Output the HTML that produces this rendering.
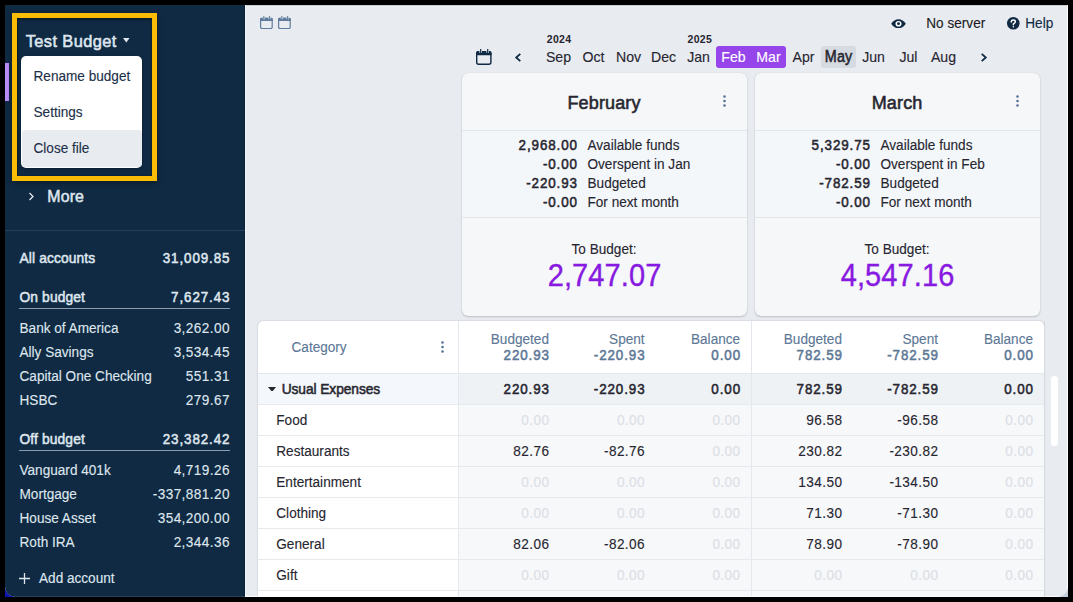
<!DOCTYPE html>
<html><head><meta charset="utf-8"><style>
html,body{margin:0;padding:0;}
body{width:1073px;height:602px;background:#000;position:relative;overflow:hidden;font-family:"Liberation Sans", sans-serif;}
.t{position:absolute;white-space:nowrap;}
</style></head><body>
<div style="position:absolute;left:5px;top:587px;width:10px;height:10px;background:#0c16b0;"></div>
<div style="position:absolute;left:1058px;top:587px;width:10px;height:10px;background:#c3cedb;"></div>
<div id="app" style="position:absolute;left:0;top:0;width:1073px;height:602px;clip-path:inset(5px 5px 5px 5px round 0 0 10px 10px);">
<div style="position:absolute;left:5px;top:5px;width:1063px;height:592px;background:#e8ebf0;border-radius:0 0 10px 10px;"></div>
<div style="position:absolute;left:5px;top:5px;width:240px;height:592px;background:#102a43;border-radius:0 0 0 10px;"></div>
<div style="position:absolute;left:244px;top:5px;width:1px;height:592px;background:#0a1f35;"></div>
<div style="position:absolute;left:245px;top:5px;width:1px;height:592px;background:#f4f6f9;"></div>
<svg style="position:absolute;left:260px;top:15.7px" width="12.8" height="13.2" viewBox="0 0 16 16" preserveAspectRatio="none"><rect x="0.75" y="3" width="14.5" height="12.25" rx="2" fill="none" stroke="#5f7c9c" stroke-width="1.5"/><path d="M0 3.9Q0 2.1 1.8 2.1H14.2Q16 2.1 16 3.9V6.2H0Z" fill="#5f7c9c"/><rect x="3.5" y="1.5" width="2.6" height="2.4" fill="#e8ebf0"/><rect x="10.7" y="1.5" width="2.6" height="2.4" fill="#e8ebf0"/><rect x="4.2" y="0" width="1.25" height="5" fill="#5f7c9c"/><rect x="11.4" y="0" width="1.25" height="5" fill="#5f7c9c"/></svg>
<svg style="position:absolute;left:278.1px;top:15.7px" width="12.8" height="13.2" viewBox="0 0 16 16" preserveAspectRatio="none"><rect x="0.75" y="3" width="14.5" height="12.25" rx="2" fill="none" stroke="#5f7c9c" stroke-width="1.5"/><path d="M0 3.9Q0 2.1 1.8 2.1H14.2Q16 2.1 16 3.9V6.2H0Z" fill="#5f7c9c"/><rect x="3.5" y="1.5" width="2.6" height="2.4" fill="#e8ebf0"/><rect x="10.7" y="1.5" width="2.6" height="2.4" fill="#e8ebf0"/><rect x="4.2" y="0" width="1.25" height="5" fill="#5f7c9c"/><rect x="11.4" y="0" width="1.25" height="5" fill="#5f7c9c"/></svg>
<div style="position:absolute;left:5px;top:63px;width:4px;height:38px;background:#bb8df9;"></div>
<div style="position:absolute;left:12px;top:13px;width:145px;height:168px;box-sizing:border-box;border:5px solid #fbbc05;box-shadow:0 2px 6px rgba(0,0,0,0.35), inset 0 1.5px 2.5px rgba(0,0,0,0.45), inset 1px 0 2px rgba(0,0,0,0.25);"></div>
<div class="t" style="top:32.62px;font-size:16.4px;line-height:16.4px;font-weight:400;color:#dfe6ee;-webkit-text-stroke-width:0.55px;letter-spacing:0.40px;left:25.7px;">Test Budget</div>
<svg style="position:absolute;left:123.3px;top:38.2px" width="6.6" height="4.4" viewBox="0 0 6.6 4.4"><path d="M0 0H6.6L3.3 4.4Z" fill="#dfe6ee"/></svg>
<div style="position:absolute;left:21px;top:56px;width:121px;height:111.6px;background:#fff;border-radius:5px;box-shadow:0 1px 3px rgba(0,0,0,0.3);"></div>
<div style="position:absolute;left:22px;top:130px;width:119.5px;height:36.6px;background:#e8ebf0;border-radius:4px;"></div>
<div class="t" style="top:70.09px;font-size:13.6px;line-height:13.6px;font-weight:400;color:#1c3049;transform:scaleY(1.09);transform-origin:0 11.51px;-webkit-text-stroke-width:0.12px;left:33.5px;">Rename budget</div>
<div class="t" style="top:106.09px;font-size:13.6px;line-height:13.6px;font-weight:400;color:#1c3049;transform:scaleY(1.09);transform-origin:0 11.51px;-webkit-text-stroke-width:0.12px;left:33.5px;">Settings</div>
<div class="t" style="top:142.09px;font-size:13.6px;line-height:13.6px;font-weight:400;color:#1c3049;transform:scaleY(1.09);transform-origin:0 11.51px;-webkit-text-stroke-width:0.12px;left:33.5px;">Close file</div>
<svg style="position:absolute;left:28px;top:192px" width="7" height="9" viewBox="0 0 7 9"><path d="M1.5 1L5 4.5L1.5 8" fill="none" stroke="#dfe6ee" stroke-width="1.3"/></svg>
<div class="t" style="top:188.62px;font-size:15.92px;line-height:15.92px;font-weight:400;color:#dfe6ee;transform:scaleY(1.06);transform-origin:0 13.48px;-webkit-text-stroke-width:0.5px;letter-spacing:0.14px;left:47.3px;">More</div>
<div style="position:absolute;left:5px;top:230px;width:240px;height:1px;background:#22405e;"></div>
<div class="t" style="top:251.92px;font-size:13.8px;line-height:13.8px;font-weight:400;color:#dfe6ee;transform:scaleY(1.09);transform-origin:0 11.68px;-webkit-text-stroke-width:0.5px;letter-spacing:0.12px;left:19.5px;">All accounts</div>
<div class="t" style="top:252.26px;font-size:13.4px;line-height:13.4px;font-weight:400;color:#dfe6ee;transform:scaleY(1.09);transform-origin:0 11.34px;-webkit-text-stroke-width:0.5px;letter-spacing:0.90px;right:842.60px;text-align:right;">31,009.85</div>
<div class="t" style="top:290.92px;font-size:13.8px;line-height:13.8px;font-weight:400;color:#dfe6ee;transform:scaleY(1.09);transform-origin:0 11.68px;-webkit-text-stroke-width:0.5px;letter-spacing:0.12px;left:19.5px;">On budget</div>
<div class="t" style="top:291.26px;font-size:13.4px;line-height:13.4px;font-weight:400;color:#dfe6ee;transform:scaleY(1.09);transform-origin:0 11.34px;-webkit-text-stroke-width:0.5px;letter-spacing:0.90px;right:842.60px;text-align:right;">7,627.43</div>
<div style="position:absolute;left:19px;top:308px;width:211px;height:1px;background:#8d9db0;"></div>
<div class="t" style="top:322.09px;font-size:13.6px;line-height:13.6px;font-weight:400;color:#dfe6ee;transform:scaleY(1.09);transform-origin:0 11.51px;-webkit-text-stroke-width:0.12px;left:19.5px;">Bank of America</div>
<div class="t" style="top:322.09px;font-size:13.6px;line-height:13.6px;font-weight:400;color:#dfe6ee;transform:scaleY(1.09);transform-origin:0 11.51px;-webkit-text-stroke-width:0.12px;letter-spacing:0.42px;right:843.08px;text-align:right;">3,262.00</div>
<div class="t" style="top:346.09px;font-size:13.6px;line-height:13.6px;font-weight:400;color:#dfe6ee;transform:scaleY(1.09);transform-origin:0 11.51px;-webkit-text-stroke-width:0.12px;left:19.5px;">Ally Savings</div>
<div class="t" style="top:346.09px;font-size:13.6px;line-height:13.6px;font-weight:400;color:#dfe6ee;transform:scaleY(1.09);transform-origin:0 11.51px;-webkit-text-stroke-width:0.12px;letter-spacing:0.42px;right:843.08px;text-align:right;">3,534.45</div>
<div class="t" style="top:370.09px;font-size:13.6px;line-height:13.6px;font-weight:400;color:#dfe6ee;transform:scaleY(1.09);transform-origin:0 11.51px;-webkit-text-stroke-width:0.12px;left:19.5px;">Capital One Checking</div>
<div class="t" style="top:370.09px;font-size:13.6px;line-height:13.6px;font-weight:400;color:#dfe6ee;transform:scaleY(1.09);transform-origin:0 11.51px;-webkit-text-stroke-width:0.12px;letter-spacing:0.42px;right:843.08px;text-align:right;">551.31</div>
<div class="t" style="top:394.09px;font-size:13.6px;line-height:13.6px;font-weight:400;color:#dfe6ee;transform:scaleY(1.09);transform-origin:0 11.51px;-webkit-text-stroke-width:0.12px;left:19.5px;">HSBC</div>
<div class="t" style="top:394.09px;font-size:13.6px;line-height:13.6px;font-weight:400;color:#dfe6ee;transform:scaleY(1.09);transform-origin:0 11.51px;-webkit-text-stroke-width:0.12px;letter-spacing:0.42px;right:843.08px;text-align:right;">279.67</div>
<div class="t" style="top:432.92px;font-size:13.8px;line-height:13.8px;font-weight:400;color:#dfe6ee;transform:scaleY(1.09);transform-origin:0 11.68px;-webkit-text-stroke-width:0.5px;letter-spacing:0.12px;left:19.5px;">Off budget</div>
<div class="t" style="top:433.26px;font-size:13.4px;line-height:13.4px;font-weight:400;color:#dfe6ee;transform:scaleY(1.09);transform-origin:0 11.34px;-webkit-text-stroke-width:0.5px;letter-spacing:0.90px;right:842.60px;text-align:right;">23,382.42</div>
<div style="position:absolute;left:19px;top:450px;width:211px;height:1px;background:#8d9db0;"></div>
<div class="t" style="top:464.09px;font-size:13.6px;line-height:13.6px;font-weight:400;color:#dfe6ee;transform:scaleY(1.09);transform-origin:0 11.51px;-webkit-text-stroke-width:0.12px;left:19.5px;">Vanguard 401k</div>
<div class="t" style="top:464.09px;font-size:13.6px;line-height:13.6px;font-weight:400;color:#dfe6ee;transform:scaleY(1.09);transform-origin:0 11.51px;-webkit-text-stroke-width:0.12px;letter-spacing:0.42px;right:843.08px;text-align:right;">4,719.26</div>
<div class="t" style="top:488.09px;font-size:13.6px;line-height:13.6px;font-weight:400;color:#dfe6ee;transform:scaleY(1.09);transform-origin:0 11.51px;-webkit-text-stroke-width:0.12px;left:19.5px;">Mortgage</div>
<div class="t" style="top:488.09px;font-size:13.6px;line-height:13.6px;font-weight:400;color:#dfe6ee;transform:scaleY(1.09);transform-origin:0 11.51px;-webkit-text-stroke-width:0.12px;letter-spacing:0.42px;right:843.08px;text-align:right;">-337,881.20</div>
<div class="t" style="top:512.09px;font-size:13.6px;line-height:13.6px;font-weight:400;color:#dfe6ee;transform:scaleY(1.09);transform-origin:0 11.51px;-webkit-text-stroke-width:0.12px;left:19.5px;">House Asset</div>
<div class="t" style="top:512.09px;font-size:13.6px;line-height:13.6px;font-weight:400;color:#dfe6ee;transform:scaleY(1.09);transform-origin:0 11.51px;-webkit-text-stroke-width:0.12px;letter-spacing:0.42px;right:843.08px;text-align:right;">354,200.00</div>
<div class="t" style="top:536.09px;font-size:13.6px;line-height:13.6px;font-weight:400;color:#dfe6ee;transform:scaleY(1.09);transform-origin:0 11.51px;-webkit-text-stroke-width:0.12px;left:19.5px;">Roth IRA</div>
<div class="t" style="top:536.09px;font-size:13.6px;line-height:13.6px;font-weight:400;color:#dfe6ee;transform:scaleY(1.09);transform-origin:0 11.51px;-webkit-text-stroke-width:0.12px;letter-spacing:0.42px;right:843.08px;text-align:right;">2,344.36</div>
<svg style="position:absolute;left:19px;top:573px" width="11" height="11" viewBox="0 0 11 11"><path d="M5.5 0V11M0 5.5H11" stroke="#dfe6ee" stroke-width="1.3"/></svg>
<div class="t" style="top:571.69px;font-size:13.6px;line-height:13.6px;font-weight:400;color:#dfe6ee;transform:scaleY(1.09);transform-origin:0 11.51px;-webkit-text-stroke-width:0.12px;left:39px;">Add account</div>
<svg style="position:absolute;left:891px;top:18.6px" width="15" height="9.4" viewBox="0 0 15 10" preserveAspectRatio="none"><path d="M0.2 5C2 1.8 4.6 0.2 7.5 0.2S13 1.8 14.8 5C13 8.2 10.4 9.8 7.5 9.8S2 8.2 0.2 5Z" fill="#102a43"/><circle cx="7.5" cy="5" r="3" fill="#fff"/><circle cx="7.5" cy="5" r="1.5" fill="#102a43"/></svg>
<div class="t" style="top:17.39px;font-size:13.6px;line-height:13.6px;font-weight:400;color:#1c1b24;transform:scaleY(1.09);transform-origin:0 11.51px;-webkit-text-stroke-width:0.12px;left:926.3px;">No server</div>
<svg style="position:absolute;left:1007.2px;top:17px" width="12.6" height="12.6" viewBox="0 0 12.6 12.6"><circle cx="6.3" cy="6.3" r="6.3" fill="#102a43"/><path d="M4.3 5Q4.3 3 6.3 3Q8.3 3 8.3 4.7Q8.3 5.8 7.1 6.4Q6.3 6.8 6.3 7.8" fill="none" stroke="#fff" stroke-width="1.45" stroke-linecap="round"/><path d="M6.3 8.9L7.2 9.8L6.3 10.7L5.4 9.8Z" fill="#fff"/></svg>
<div class="t" style="top:17.39px;font-size:13.6px;line-height:13.6px;font-weight:400;color:#102a43;transform:scaleY(1.09);transform-origin:0 11.51px;-webkit-text-stroke-width:0.12px;left:1025.3px;">Help</div>
<svg style="position:absolute;left:476.2px;top:49px" width="15.6" height="16" viewBox="0 0 16 16" preserveAspectRatio="none"><rect x="0.725" y="3" width="14.55" height="12.275" rx="2" fill="none" stroke="#102a43" stroke-width="1.45"/><path d="M0 3.9Q0 2.1 1.8 2.1H14.2Q16 2.1 16 3.9V6.2H0Z" fill="#102a43"/><rect x="3.5" y="1.5" width="2.6" height="2.4" fill="#e8ebf0"/><rect x="10.7" y="1.5" width="2.6" height="2.4" fill="#e8ebf0"/><rect x="4.2" y="0" width="1.25" height="5" fill="#102a43"/><rect x="11.4" y="0" width="1.25" height="5" fill="#102a43"/></svg>
<svg style="position:absolute;left:514px;top:52.5px" width="8" height="9" viewBox="0 0 8 9"><path d="M6.3 0.8L2.2 4.5L6.3 8.2" fill="none" stroke="#102a43" stroke-width="1.8"/></svg>
<svg style="position:absolute;left:980px;top:52.5px" width="8" height="9" viewBox="0 0 8 9"><path d="M1.7 0.8L5.8 4.5L1.7 8.2" fill="none" stroke="#102a43" stroke-width="1.8"/></svg>
<div style="position:absolute;left:716px;top:46px;width:70px;height:22px;background:#9645ea;border-radius:3px;"></div>
<div style="position:absolute;left:821px;top:46px;width:35px;height:22px;background:#d6dbe1;border-radius:3px;"></div>
<div class="t" style="top:49.75px;font-size:14.12px;line-height:14.12px;font-weight:400;color:#272630;transform:scaleY(1.09);transform-origin:0 11.95px;-webkit-text-stroke-width:0.12px;left:358.50px;width:400px;text-align:center;">Sep</div>
<div class="t" style="top:49.75px;font-size:14.12px;line-height:14.12px;font-weight:400;color:#272630;transform:scaleY(1.09);transform-origin:0 11.95px;-webkit-text-stroke-width:0.12px;left:393.50px;width:400px;text-align:center;">Oct</div>
<div class="t" style="top:49.75px;font-size:14.12px;line-height:14.12px;font-weight:400;color:#272630;transform:scaleY(1.09);transform-origin:0 11.95px;-webkit-text-stroke-width:0.12px;left:428.50px;width:400px;text-align:center;">Nov</div>
<div class="t" style="top:49.75px;font-size:14.12px;line-height:14.12px;font-weight:400;color:#272630;transform:scaleY(1.09);transform-origin:0 11.95px;-webkit-text-stroke-width:0.12px;left:463.50px;width:400px;text-align:center;">Dec</div>
<div class="t" style="top:49.75px;font-size:14.12px;line-height:14.12px;font-weight:400;color:#272630;transform:scaleY(1.09);transform-origin:0 11.95px;-webkit-text-stroke-width:0.12px;left:498.50px;width:400px;text-align:center;">Jan</div>
<div class="t" style="top:49.75px;font-size:14.12px;line-height:14.12px;font-weight:400;color:#fff;transform:scaleY(1.09);transform-origin:0 11.95px;-webkit-text-stroke-width:0.12px;left:533.50px;width:400px;text-align:center;">Feb</div>
<div class="t" style="top:49.75px;font-size:14.12px;line-height:14.12px;font-weight:400;color:#fff;transform:scaleY(1.09);transform-origin:0 11.95px;-webkit-text-stroke-width:0.12px;left:568.50px;width:400px;text-align:center;">Mar</div>
<div class="t" style="top:49.75px;font-size:14.12px;line-height:14.12px;font-weight:400;color:#272630;transform:scaleY(1.09);transform-origin:0 11.95px;-webkit-text-stroke-width:0.12px;left:603.50px;width:400px;text-align:center;">Apr</div>
<div class="t" style="top:49.57px;font-size:14.33px;line-height:14.33px;font-weight:400;color:#272630;transform:scaleY(1.09);transform-origin:0 12.13px;-webkit-text-stroke-width:0.5px;letter-spacing:0.12px;left:638.56px;width:400px;text-align:center;">May</div>
<div class="t" style="top:49.75px;font-size:14.12px;line-height:14.12px;font-weight:400;color:#272630;transform:scaleY(1.09);transform-origin:0 11.95px;-webkit-text-stroke-width:0.12px;left:673.50px;width:400px;text-align:center;">Jun</div>
<div class="t" style="top:49.75px;font-size:14.12px;line-height:14.12px;font-weight:400;color:#272630;transform:scaleY(1.09);transform-origin:0 11.95px;-webkit-text-stroke-width:0.12px;left:708.50px;width:400px;text-align:center;">Jul</div>
<div class="t" style="top:49.75px;font-size:14.12px;line-height:14.12px;font-weight:400;color:#272630;transform:scaleY(1.09);transform-origin:0 11.95px;-webkit-text-stroke-width:0.12px;left:743.50px;width:400px;text-align:center;">Aug</div>
<div class="t" style="top:34.11px;font-size:10.5px;line-height:10.5px;font-weight:700;color:#272630;letter-spacing:0.30px;left:546.8px;">2024</div>
<div class="t" style="top:34.11px;font-size:10.5px;line-height:10.5px;font-weight:700;color:#272630;letter-spacing:0.30px;left:687.5px;">2025</div>
<div style="position:absolute;left:462px;top:73px;width:285px;height:243px;background:#f6f7f9;border-radius:6px;box-shadow:0 1px 2px rgba(0,0,0,0.18), 0 0 1px rgba(0,0,0,0.15);"></div>
<div style="position:absolute;left:462px;top:130px;width:285px;height:1px;background:#e3e7ec;"></div>
<div style="position:absolute;left:462px;top:131px;width:285px;height:86px;background:#f4f7fa;"></div>
<div style="position:absolute;left:462px;top:217px;width:285px;height:1px;background:#e3e7ec;"></div>
<div class="t" style="top:93.56px;font-size:18px;line-height:18px;font-weight:400;color:#272630;-webkit-text-stroke-width:0.55px;letter-spacing:0.15px;left:404.07px;width:400px;text-align:center;">February</div>
<svg style="position:absolute;left:722.5px;top:94.9px" width="3" height="12" viewBox="0 0 3 12"><circle cx="1.5" cy="1.5" r="1.3" fill="#567595"/><circle cx="1.5" cy="6" r="1.3" fill="#567595"/><circle cx="1.5" cy="10.5" r="1.3" fill="#567595"/></svg>
<div class="t" style="top:139.26px;font-size:13.4px;line-height:13.4px;font-weight:400;color:#272630;transform:scaleY(1.09);transform-origin:0 11.34px;-webkit-text-stroke-width:0.5px;letter-spacing:0.90px;right:495.10px;text-align:right;">2,968.00</div>
<div class="t" style="top:139.09px;font-size:13.6px;line-height:13.6px;font-weight:400;color:#272630;transform:scaleY(1.09);transform-origin:0 11.51px;-webkit-text-stroke-width:0.12px;left:587.5px;">Available funds</div>
<div class="t" style="top:158.26px;font-size:13.4px;line-height:13.4px;font-weight:400;color:#272630;transform:scaleY(1.09);transform-origin:0 11.34px;-webkit-text-stroke-width:0.5px;letter-spacing:0.90px;right:495.10px;text-align:right;">-0.00</div>
<div class="t" style="top:158.09px;font-size:13.6px;line-height:13.6px;font-weight:400;color:#272630;transform:scaleY(1.09);transform-origin:0 11.51px;-webkit-text-stroke-width:0.12px;left:587.5px;">Overspent in Jan</div>
<div class="t" style="top:177.26px;font-size:13.4px;line-height:13.4px;font-weight:400;color:#272630;transform:scaleY(1.09);transform-origin:0 11.34px;-webkit-text-stroke-width:0.5px;letter-spacing:0.90px;right:495.10px;text-align:right;">-220.93</div>
<div class="t" style="top:177.09px;font-size:13.6px;line-height:13.6px;font-weight:400;color:#272630;transform:scaleY(1.09);transform-origin:0 11.51px;-webkit-text-stroke-width:0.12px;left:587.5px;">Budgeted</div>
<div class="t" style="top:196.26px;font-size:13.4px;line-height:13.4px;font-weight:400;color:#272630;transform:scaleY(1.09);transform-origin:0 11.34px;-webkit-text-stroke-width:0.5px;letter-spacing:0.90px;right:495.10px;text-align:right;">-0.00</div>
<div class="t" style="top:196.09px;font-size:13.6px;line-height:13.6px;font-weight:400;color:#272630;transform:scaleY(1.09);transform-origin:0 11.51px;-webkit-text-stroke-width:0.12px;left:587.5px;">For next month</div>
<div class="t" style="top:243.09px;font-size:13.6px;line-height:13.6px;font-weight:400;color:#272630;transform:scaleY(1.09);transform-origin:0 11.51px;-webkit-text-stroke-width:0.12px;left:404.00px;width:400px;text-align:center;">To Budget:</div>
<div class="t" style="top:261.85px;font-size:29px;line-height:29px;font-weight:400;color:#8719e0;transform:scaleY(1.1);transform-origin:0 24.55px;-webkit-text-stroke-width:0.35px;letter-spacing:0.10px;left:404.55px;width:400px;text-align:center;">2,747.07</div>
<div style="position:absolute;left:755px;top:73px;width:285px;height:243px;background:#f6f7f9;border-radius:6px;box-shadow:0 1px 2px rgba(0,0,0,0.18), 0 0 1px rgba(0,0,0,0.15);"></div>
<div style="position:absolute;left:755px;top:130px;width:285px;height:1px;background:#e3e7ec;"></div>
<div style="position:absolute;left:755px;top:131px;width:285px;height:86px;background:#f4f7fa;"></div>
<div style="position:absolute;left:755px;top:217px;width:285px;height:1px;background:#e3e7ec;"></div>
<div class="t" style="top:93.56px;font-size:18px;line-height:18px;font-weight:400;color:#272630;-webkit-text-stroke-width:0.55px;letter-spacing:0.15px;left:697.08px;width:400px;text-align:center;">March</div>
<svg style="position:absolute;left:1015.5px;top:94.9px" width="3" height="12" viewBox="0 0 3 12"><circle cx="1.5" cy="1.5" r="1.3" fill="#567595"/><circle cx="1.5" cy="6" r="1.3" fill="#567595"/><circle cx="1.5" cy="10.5" r="1.3" fill="#567595"/></svg>
<div class="t" style="top:139.26px;font-size:13.4px;line-height:13.4px;font-weight:400;color:#272630;transform:scaleY(1.09);transform-origin:0 11.34px;-webkit-text-stroke-width:0.5px;letter-spacing:0.90px;right:202.10px;text-align:right;">5,329.75</div>
<div class="t" style="top:139.09px;font-size:13.6px;line-height:13.6px;font-weight:400;color:#272630;transform:scaleY(1.09);transform-origin:0 11.51px;-webkit-text-stroke-width:0.12px;left:880.5px;">Available funds</div>
<div class="t" style="top:158.26px;font-size:13.4px;line-height:13.4px;font-weight:400;color:#272630;transform:scaleY(1.09);transform-origin:0 11.34px;-webkit-text-stroke-width:0.5px;letter-spacing:0.90px;right:202.10px;text-align:right;">-0.00</div>
<div class="t" style="top:158.09px;font-size:13.6px;line-height:13.6px;font-weight:400;color:#272630;transform:scaleY(1.09);transform-origin:0 11.51px;-webkit-text-stroke-width:0.12px;left:880.5px;">Overspent in Feb</div>
<div class="t" style="top:177.26px;font-size:13.4px;line-height:13.4px;font-weight:400;color:#272630;transform:scaleY(1.09);transform-origin:0 11.34px;-webkit-text-stroke-width:0.5px;letter-spacing:0.90px;right:202.10px;text-align:right;">-782.59</div>
<div class="t" style="top:177.09px;font-size:13.6px;line-height:13.6px;font-weight:400;color:#272630;transform:scaleY(1.09);transform-origin:0 11.51px;-webkit-text-stroke-width:0.12px;left:880.5px;">Budgeted</div>
<div class="t" style="top:196.26px;font-size:13.4px;line-height:13.4px;font-weight:400;color:#272630;transform:scaleY(1.09);transform-origin:0 11.34px;-webkit-text-stroke-width:0.5px;letter-spacing:0.90px;right:202.10px;text-align:right;">-0.00</div>
<div class="t" style="top:196.09px;font-size:13.6px;line-height:13.6px;font-weight:400;color:#272630;transform:scaleY(1.09);transform-origin:0 11.51px;-webkit-text-stroke-width:0.12px;left:880.5px;">For next month</div>
<div class="t" style="top:243.09px;font-size:13.6px;line-height:13.6px;font-weight:400;color:#272630;transform:scaleY(1.09);transform-origin:0 11.51px;-webkit-text-stroke-width:0.12px;left:697.00px;width:400px;text-align:center;">To Budget:</div>
<div class="t" style="top:261.85px;font-size:29px;line-height:29px;font-weight:400;color:#8719e0;transform:scaleY(1.1);transform-origin:0 24.55px;-webkit-text-stroke-width:0.35px;letter-spacing:0.10px;left:697.55px;width:400px;text-align:center;">4,547.16</div>
<div style="position:absolute;left:258px;top:321px;width:786px;height:300px;background:#fff;border-radius:5px;box-shadow:0 0 1.5px rgba(40,50,70,0.35);"></div>
<div style="position:absolute;left:258px;top:373px;width:786px;height:1px;background:#e3e7ee;"></div>
<div style="position:absolute;left:459px;top:374px;width:292px;height:300px;background:#f6f8fa;"></div>
<div style="position:absolute;left:752px;top:374px;width:292px;height:300px;background:#f6f8fa;"></div>
<div style="position:absolute;left:258px;top:374px;width:200px;height:30px;background:#f4f7fb;"></div>
<div style="position:absolute;left:459px;top:374px;width:292px;height:30px;background:#eef2f5;"></div>
<div style="position:absolute;left:752px;top:374px;width:292px;height:30px;background:#eef2f5;"></div>
<div style="position:absolute;left:458px;top:321px;width:1px;height:300px;background:#e3e7ee;"></div>
<div style="position:absolute;left:751px;top:321px;width:1px;height:300px;background:#e3e7ee;"></div>
<div style="position:absolute;left:258px;top:404px;width:786px;height:1px;background:#e6e9ee;"></div>
<div style="position:absolute;left:258px;top:435px;width:786px;height:1px;background:#e6e9ee;"></div>
<div style="position:absolute;left:258px;top:466px;width:786px;height:1px;background:#e6e9ee;"></div>
<div style="position:absolute;left:258px;top:497px;width:786px;height:1px;background:#e6e9ee;"></div>
<div style="position:absolute;left:258px;top:528px;width:786px;height:1px;background:#e6e9ee;"></div>
<div style="position:absolute;left:258px;top:559px;width:786px;height:1px;background:#e6e9ee;"></div>
<div style="position:absolute;left:258px;top:590px;width:786px;height:1px;background:#e6e9ee;"></div>
<div class="t" style="top:340.79px;font-size:13.6px;line-height:13.6px;font-weight:400;color:#5d7896;transform:scaleY(1.09);transform-origin:0 11.51px;-webkit-text-stroke-width:0.12px;left:291.5px;">Category</div>
<svg style="position:absolute;left:440.7px;top:341px" width="3" height="12" viewBox="0 0 3 12"><circle cx="1.5" cy="1.5" r="1.3" fill="#567595"/><circle cx="1.5" cy="6" r="1.3" fill="#567595"/><circle cx="1.5" cy="10.5" r="1.3" fill="#567595"/></svg>
<div class="t" style="top:333.29px;font-size:13.6px;line-height:13.6px;font-weight:400;color:#5d7896;transform:scaleY(1.09);transform-origin:0 11.51px;-webkit-text-stroke-width:0.12px;right:524.00px;text-align:right;">Budgeted</div>
<div class="t" style="top:349.06px;font-size:13.4px;line-height:13.4px;font-weight:400;color:#5d7896;transform:scaleY(1.09);transform-origin:0 11.34px;-webkit-text-stroke-width:0.5px;letter-spacing:0.90px;right:523.10px;text-align:right;">220.93</div>
<div class="t" style="top:333.29px;font-size:13.6px;line-height:13.6px;font-weight:400;color:#5d7896;transform:scaleY(1.09);transform-origin:0 11.51px;-webkit-text-stroke-width:0.12px;right:428.40px;text-align:right;">Spent</div>
<div class="t" style="top:349.06px;font-size:13.4px;line-height:13.4px;font-weight:400;color:#5d7896;transform:scaleY(1.09);transform-origin:0 11.34px;-webkit-text-stroke-width:0.5px;letter-spacing:0.90px;right:427.50px;text-align:right;">-220.93</div>
<div class="t" style="top:333.29px;font-size:13.6px;line-height:13.6px;font-weight:400;color:#5d7896;transform:scaleY(1.09);transform-origin:0 11.51px;-webkit-text-stroke-width:0.12px;right:332.90px;text-align:right;">Balance</div>
<div class="t" style="top:349.06px;font-size:13.4px;line-height:13.4px;font-weight:400;color:#5d7896;transform:scaleY(1.09);transform-origin:0 11.34px;-webkit-text-stroke-width:0.5px;letter-spacing:0.90px;right:332.00px;text-align:right;">0.00</div>
<div class="t" style="top:333.29px;font-size:13.6px;line-height:13.6px;font-weight:400;color:#5d7896;transform:scaleY(1.09);transform-origin:0 11.51px;-webkit-text-stroke-width:0.12px;right:231.00px;text-align:right;">Budgeted</div>
<div class="t" style="top:349.06px;font-size:13.4px;line-height:13.4px;font-weight:400;color:#5d7896;transform:scaleY(1.09);transform-origin:0 11.34px;-webkit-text-stroke-width:0.5px;letter-spacing:0.90px;right:230.10px;text-align:right;">782.59</div>
<div class="t" style="top:333.29px;font-size:13.6px;line-height:13.6px;font-weight:400;color:#5d7896;transform:scaleY(1.09);transform-origin:0 11.51px;-webkit-text-stroke-width:0.12px;right:135.00px;text-align:right;">Spent</div>
<div class="t" style="top:349.06px;font-size:13.4px;line-height:13.4px;font-weight:400;color:#5d7896;transform:scaleY(1.09);transform-origin:0 11.34px;-webkit-text-stroke-width:0.5px;letter-spacing:0.90px;right:134.10px;text-align:right;">-782.59</div>
<div class="t" style="top:333.29px;font-size:13.6px;line-height:13.6px;font-weight:400;color:#5d7896;transform:scaleY(1.09);transform-origin:0 11.51px;-webkit-text-stroke-width:0.12px;right:40.00px;text-align:right;">Balance</div>
<div class="t" style="top:349.06px;font-size:13.4px;line-height:13.4px;font-weight:400;color:#5d7896;transform:scaleY(1.09);transform-origin:0 11.34px;-webkit-text-stroke-width:0.5px;letter-spacing:0.90px;right:39.10px;text-align:right;">0.00</div>
<svg style="position:absolute;left:268.1px;top:386.6px" width="8.1" height="4.8" viewBox="0 0 8.1 4.8"><path d="M0 0H8.1L4.05 4.8Z" fill="#272630"/></svg>
<div class="t" style="top:382.92px;font-size:13.8px;line-height:13.8px;font-weight:400;color:#272630;transform:scaleY(1.09);transform-origin:0 11.68px;-webkit-text-stroke-width:0.5px;letter-spacing:-0.09px;left:281.7px;">Usual Expenses</div>
<div class="t" style="top:383.26px;font-size:13.4px;line-height:13.4px;font-weight:400;color:#272630;transform:scaleY(1.09);transform-origin:0 11.34px;-webkit-text-stroke-width:0.5px;letter-spacing:0.90px;right:523.10px;text-align:right;">220.93</div>
<div class="t" style="top:383.26px;font-size:13.4px;line-height:13.4px;font-weight:400;color:#272630;transform:scaleY(1.09);transform-origin:0 11.34px;-webkit-text-stroke-width:0.5px;letter-spacing:0.90px;right:427.50px;text-align:right;">-220.93</div>
<div class="t" style="top:383.26px;font-size:13.4px;line-height:13.4px;font-weight:400;color:#272630;transform:scaleY(1.09);transform-origin:0 11.34px;-webkit-text-stroke-width:0.5px;letter-spacing:0.90px;right:332.00px;text-align:right;">0.00</div>
<div class="t" style="top:383.26px;font-size:13.4px;line-height:13.4px;font-weight:400;color:#272630;transform:scaleY(1.09);transform-origin:0 11.34px;-webkit-text-stroke-width:0.5px;letter-spacing:0.90px;right:230.10px;text-align:right;">782.59</div>
<div class="t" style="top:383.26px;font-size:13.4px;line-height:13.4px;font-weight:400;color:#272630;transform:scaleY(1.09);transform-origin:0 11.34px;-webkit-text-stroke-width:0.5px;letter-spacing:0.90px;right:134.10px;text-align:right;">-782.59</div>
<div class="t" style="top:383.26px;font-size:13.4px;line-height:13.4px;font-weight:400;color:#272630;transform:scaleY(1.09);transform-origin:0 11.34px;-webkit-text-stroke-width:0.5px;letter-spacing:0.90px;right:39.10px;text-align:right;">0.00</div>
<div class="t" style="top:413.89px;font-size:13.6px;line-height:13.6px;font-weight:400;color:#272630;transform:scaleY(1.09);transform-origin:0 11.51px;-webkit-text-stroke-width:0.12px;left:276.3px;">Food</div>
<div class="t" style="top:413.89px;font-size:13.6px;line-height:13.6px;font-weight:400;color:#dce0e6;transform:scaleY(1.09);transform-origin:0 11.51px;-webkit-text-stroke-width:0.12px;letter-spacing:0.42px;right:523.58px;text-align:right;">0.00</div>
<div class="t" style="top:413.89px;font-size:13.6px;line-height:13.6px;font-weight:400;color:#dce0e6;transform:scaleY(1.09);transform-origin:0 11.51px;-webkit-text-stroke-width:0.12px;letter-spacing:0.42px;right:427.98px;text-align:right;">0.00</div>
<div class="t" style="top:413.89px;font-size:13.6px;line-height:13.6px;font-weight:400;color:#dce0e6;transform:scaleY(1.09);transform-origin:0 11.51px;-webkit-text-stroke-width:0.12px;letter-spacing:0.42px;right:332.48px;text-align:right;">0.00</div>
<div class="t" style="top:413.89px;font-size:13.6px;line-height:13.6px;font-weight:400;color:#272630;transform:scaleY(1.09);transform-origin:0 11.51px;-webkit-text-stroke-width:0.12px;letter-spacing:0.42px;right:230.58px;text-align:right;">96.58</div>
<div class="t" style="top:413.89px;font-size:13.6px;line-height:13.6px;font-weight:400;color:#272630;transform:scaleY(1.09);transform-origin:0 11.51px;-webkit-text-stroke-width:0.12px;letter-spacing:0.42px;right:134.58px;text-align:right;">-96.58</div>
<div class="t" style="top:413.89px;font-size:13.6px;line-height:13.6px;font-weight:400;color:#dce0e6;transform:scaleY(1.09);transform-origin:0 11.51px;-webkit-text-stroke-width:0.12px;letter-spacing:0.42px;right:39.58px;text-align:right;">0.00</div>
<div class="t" style="top:444.89px;font-size:13.6px;line-height:13.6px;font-weight:400;color:#272630;transform:scaleY(1.09);transform-origin:0 11.51px;-webkit-text-stroke-width:0.12px;left:276.3px;">Restaurants</div>
<div class="t" style="top:444.89px;font-size:13.6px;line-height:13.6px;font-weight:400;color:#272630;transform:scaleY(1.09);transform-origin:0 11.51px;-webkit-text-stroke-width:0.12px;letter-spacing:0.42px;right:523.58px;text-align:right;">82.76</div>
<div class="t" style="top:444.89px;font-size:13.6px;line-height:13.6px;font-weight:400;color:#272630;transform:scaleY(1.09);transform-origin:0 11.51px;-webkit-text-stroke-width:0.12px;letter-spacing:0.42px;right:427.98px;text-align:right;">-82.76</div>
<div class="t" style="top:444.89px;font-size:13.6px;line-height:13.6px;font-weight:400;color:#dce0e6;transform:scaleY(1.09);transform-origin:0 11.51px;-webkit-text-stroke-width:0.12px;letter-spacing:0.42px;right:332.48px;text-align:right;">0.00</div>
<div class="t" style="top:444.89px;font-size:13.6px;line-height:13.6px;font-weight:400;color:#272630;transform:scaleY(1.09);transform-origin:0 11.51px;-webkit-text-stroke-width:0.12px;letter-spacing:0.42px;right:230.58px;text-align:right;">230.82</div>
<div class="t" style="top:444.89px;font-size:13.6px;line-height:13.6px;font-weight:400;color:#272630;transform:scaleY(1.09);transform-origin:0 11.51px;-webkit-text-stroke-width:0.12px;letter-spacing:0.42px;right:134.58px;text-align:right;">-230.82</div>
<div class="t" style="top:444.89px;font-size:13.6px;line-height:13.6px;font-weight:400;color:#dce0e6;transform:scaleY(1.09);transform-origin:0 11.51px;-webkit-text-stroke-width:0.12px;letter-spacing:0.42px;right:39.58px;text-align:right;">0.00</div>
<div class="t" style="top:475.89px;font-size:13.6px;line-height:13.6px;font-weight:400;color:#272630;transform:scaleY(1.09);transform-origin:0 11.51px;-webkit-text-stroke-width:0.12px;left:276.3px;">Entertainment</div>
<div class="t" style="top:475.89px;font-size:13.6px;line-height:13.6px;font-weight:400;color:#dce0e6;transform:scaleY(1.09);transform-origin:0 11.51px;-webkit-text-stroke-width:0.12px;letter-spacing:0.42px;right:523.58px;text-align:right;">0.00</div>
<div class="t" style="top:475.89px;font-size:13.6px;line-height:13.6px;font-weight:400;color:#dce0e6;transform:scaleY(1.09);transform-origin:0 11.51px;-webkit-text-stroke-width:0.12px;letter-spacing:0.42px;right:427.98px;text-align:right;">0.00</div>
<div class="t" style="top:475.89px;font-size:13.6px;line-height:13.6px;font-weight:400;color:#dce0e6;transform:scaleY(1.09);transform-origin:0 11.51px;-webkit-text-stroke-width:0.12px;letter-spacing:0.42px;right:332.48px;text-align:right;">0.00</div>
<div class="t" style="top:475.89px;font-size:13.6px;line-height:13.6px;font-weight:400;color:#272630;transform:scaleY(1.09);transform-origin:0 11.51px;-webkit-text-stroke-width:0.12px;letter-spacing:0.42px;right:230.58px;text-align:right;">134.50</div>
<div class="t" style="top:475.89px;font-size:13.6px;line-height:13.6px;font-weight:400;color:#272630;transform:scaleY(1.09);transform-origin:0 11.51px;-webkit-text-stroke-width:0.12px;letter-spacing:0.42px;right:134.58px;text-align:right;">-134.50</div>
<div class="t" style="top:475.89px;font-size:13.6px;line-height:13.6px;font-weight:400;color:#dce0e6;transform:scaleY(1.09);transform-origin:0 11.51px;-webkit-text-stroke-width:0.12px;letter-spacing:0.42px;right:39.58px;text-align:right;">0.00</div>
<div class="t" style="top:506.89px;font-size:13.6px;line-height:13.6px;font-weight:400;color:#272630;transform:scaleY(1.09);transform-origin:0 11.51px;-webkit-text-stroke-width:0.12px;left:276.3px;">Clothing</div>
<div class="t" style="top:506.89px;font-size:13.6px;line-height:13.6px;font-weight:400;color:#dce0e6;transform:scaleY(1.09);transform-origin:0 11.51px;-webkit-text-stroke-width:0.12px;letter-spacing:0.42px;right:523.58px;text-align:right;">0.00</div>
<div class="t" style="top:506.89px;font-size:13.6px;line-height:13.6px;font-weight:400;color:#dce0e6;transform:scaleY(1.09);transform-origin:0 11.51px;-webkit-text-stroke-width:0.12px;letter-spacing:0.42px;right:427.98px;text-align:right;">0.00</div>
<div class="t" style="top:506.89px;font-size:13.6px;line-height:13.6px;font-weight:400;color:#dce0e6;transform:scaleY(1.09);transform-origin:0 11.51px;-webkit-text-stroke-width:0.12px;letter-spacing:0.42px;right:332.48px;text-align:right;">0.00</div>
<div class="t" style="top:506.89px;font-size:13.6px;line-height:13.6px;font-weight:400;color:#272630;transform:scaleY(1.09);transform-origin:0 11.51px;-webkit-text-stroke-width:0.12px;letter-spacing:0.42px;right:230.58px;text-align:right;">71.30</div>
<div class="t" style="top:506.89px;font-size:13.6px;line-height:13.6px;font-weight:400;color:#272630;transform:scaleY(1.09);transform-origin:0 11.51px;-webkit-text-stroke-width:0.12px;letter-spacing:0.42px;right:134.58px;text-align:right;">-71.30</div>
<div class="t" style="top:506.89px;font-size:13.6px;line-height:13.6px;font-weight:400;color:#dce0e6;transform:scaleY(1.09);transform-origin:0 11.51px;-webkit-text-stroke-width:0.12px;letter-spacing:0.42px;right:39.58px;text-align:right;">0.00</div>
<div class="t" style="top:537.89px;font-size:13.6px;line-height:13.6px;font-weight:400;color:#272630;transform:scaleY(1.09);transform-origin:0 11.51px;-webkit-text-stroke-width:0.12px;left:276.3px;">General</div>
<div class="t" style="top:537.89px;font-size:13.6px;line-height:13.6px;font-weight:400;color:#272630;transform:scaleY(1.09);transform-origin:0 11.51px;-webkit-text-stroke-width:0.12px;letter-spacing:0.42px;right:523.58px;text-align:right;">82.06</div>
<div class="t" style="top:537.89px;font-size:13.6px;line-height:13.6px;font-weight:400;color:#272630;transform:scaleY(1.09);transform-origin:0 11.51px;-webkit-text-stroke-width:0.12px;letter-spacing:0.42px;right:427.98px;text-align:right;">-82.06</div>
<div class="t" style="top:537.89px;font-size:13.6px;line-height:13.6px;font-weight:400;color:#dce0e6;transform:scaleY(1.09);transform-origin:0 11.51px;-webkit-text-stroke-width:0.12px;letter-spacing:0.42px;right:332.48px;text-align:right;">0.00</div>
<div class="t" style="top:537.89px;font-size:13.6px;line-height:13.6px;font-weight:400;color:#272630;transform:scaleY(1.09);transform-origin:0 11.51px;-webkit-text-stroke-width:0.12px;letter-spacing:0.42px;right:230.58px;text-align:right;">78.90</div>
<div class="t" style="top:537.89px;font-size:13.6px;line-height:13.6px;font-weight:400;color:#272630;transform:scaleY(1.09);transform-origin:0 11.51px;-webkit-text-stroke-width:0.12px;letter-spacing:0.42px;right:134.58px;text-align:right;">-78.90</div>
<div class="t" style="top:537.89px;font-size:13.6px;line-height:13.6px;font-weight:400;color:#dce0e6;transform:scaleY(1.09);transform-origin:0 11.51px;-webkit-text-stroke-width:0.12px;letter-spacing:0.42px;right:39.58px;text-align:right;">0.00</div>
<div class="t" style="top:568.89px;font-size:13.6px;line-height:13.6px;font-weight:400;color:#272630;transform:scaleY(1.09);transform-origin:0 11.51px;-webkit-text-stroke-width:0.12px;left:276.3px;">Gift</div>
<div class="t" style="top:568.89px;font-size:13.6px;line-height:13.6px;font-weight:400;color:#dce0e6;transform:scaleY(1.09);transform-origin:0 11.51px;-webkit-text-stroke-width:0.12px;letter-spacing:0.42px;right:523.58px;text-align:right;">0.00</div>
<div class="t" style="top:568.89px;font-size:13.6px;line-height:13.6px;font-weight:400;color:#dce0e6;transform:scaleY(1.09);transform-origin:0 11.51px;-webkit-text-stroke-width:0.12px;letter-spacing:0.42px;right:427.98px;text-align:right;">0.00</div>
<div class="t" style="top:568.89px;font-size:13.6px;line-height:13.6px;font-weight:400;color:#dce0e6;transform:scaleY(1.09);transform-origin:0 11.51px;-webkit-text-stroke-width:0.12px;letter-spacing:0.42px;right:332.48px;text-align:right;">0.00</div>
<div class="t" style="top:568.89px;font-size:13.6px;line-height:13.6px;font-weight:400;color:#dce0e6;transform:scaleY(1.09);transform-origin:0 11.51px;-webkit-text-stroke-width:0.12px;letter-spacing:0.42px;right:230.58px;text-align:right;">0.00</div>
<div class="t" style="top:568.89px;font-size:13.6px;line-height:13.6px;font-weight:400;color:#dce0e6;transform:scaleY(1.09);transform-origin:0 11.51px;-webkit-text-stroke-width:0.12px;letter-spacing:0.42px;right:134.58px;text-align:right;">0.00</div>
<div class="t" style="top:568.89px;font-size:13.6px;line-height:13.6px;font-weight:400;color:#dce0e6;transform:scaleY(1.09);transform-origin:0 11.51px;-webkit-text-stroke-width:0.12px;letter-spacing:0.42px;right:39.58px;text-align:right;">0.00</div>
<div style="position:absolute;left:1067px;top:5px;width:1px;height:592px;background:#fbfcfd;"></div>
<div style="position:absolute;left:245px;top:596px;width:823px;height:1px;background:#fbfcfd;"></div>
<div style="position:absolute;left:15px;top:596px;width:230px;height:1px;background:#283f58;"></div>
<div style="position:absolute;left:246px;top:5px;width:821px;height:1px;background:#c9cdd3;"></div>
<div style="position:absolute;left:246px;top:6px;width:821px;height:1px;background:#eceef2;"></div>
<div style="position:absolute;left:1044px;top:321px;width:1px;height:276px;background:#d5dae0;"></div>
<div style="position:absolute;left:1051px;top:376px;width:7px;height:70px;background:#fff;border-radius:4px;"></div>
</div>
</body></html>
